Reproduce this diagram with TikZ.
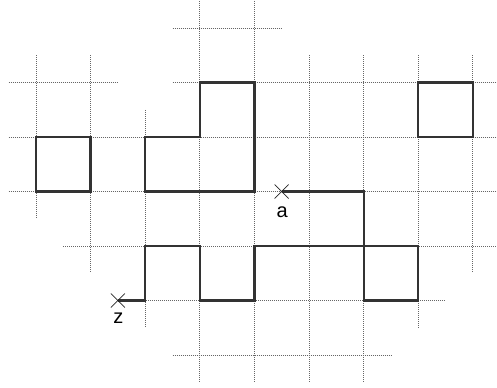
\documentclass[tikz,border=0pt]{standalone}
\usepackage{fontspec}
\setmainfont{Liberation Sans}
\begin{document}
\begin{tikzpicture}[x=54.6pt,y=-54.5pt,
  gridline/.style={draw=black!60,line width=0.9pt,dash pattern=on 1pt off 1pt},
  thick path/.style={draw=black!80,line width=2.2pt,line join=miter},
  crossmark/.style={draw=black!85,line width=0.7pt},
  lbl/.style={inner sep=0pt,font=\fontsize{20}{24}\selectfont}]
\useasboundingbox (-0.6593,-0.5138) rectangle (8.4432,6.5872);
\begin{scope}
\clip (-0.6593,-0.5138) rectangle (8.4432,6.5872);
% horizontal grid lines
\draw[gridline] (2.5,0) -- (4.5,0);
\draw[gridline] (-0.5,1) -- (1.5,1);
\draw[gridline] (2.5,1) -- (8.5,1);
\draw[gridline] (-0.5,2) -- (8.5,2);
\draw[gridline] (-0.5,3) -- (8.5,3);
\draw[gridline] (0.5,4) -- (8.5,4);
\draw[gridline] (1.5,5) -- (7.5,5);
\draw[gridline] (2.5,6) -- (6.5,6);
% vertical grid lines
\draw[gridline] (0,0.5) -- (0,3.5);
\draw[gridline] (1,0.5) -- (1,4.5);
\draw[gridline] (2,1.5) -- (2,5.5);
\draw[gridline] (3,-0.5) -- (3,6.5);
\draw[gridline] (4,-0.5) -- (4,6.5);
\draw[gridline] (5,0.5) -- (5,6.5);
\draw[gridline] (6,0.5) -- (6,6.5);
\draw[gridline] (7,0.5) -- (7,5.5);
\draw[gridline] (8,0.5) -- (8,4.5);
\end{scope}
% shapes
\draw[thick path] (0,2) rectangle (1,3);
\draw[thick path] (2,2) -- (2,3) -- (4,3) -- (4,1) -- (3,1) -- (3,2) -- cycle;
\draw[thick path] (7,1) rectangle (8,2);
% path from z to a
\coordinate (z) at (1.5,5);
\coordinate (a) at (4.5,3);
\draw[thick path] (z) -- (2,5) -- (2,4) -- (3,4) -- (3,5) -- (4,5) -- (4,4)
  -- (7,4) -- (7,5) -- (6,5) -- (6,3) -- (a);
% crosses
\draw[crossmark] ([shift={(-7pt,-7pt)}]a) -- ([shift={(7pt,7pt)}]a)
  ([shift={(-7pt,7pt)}]a) -- ([shift={(7pt,-7pt)}]a);
\draw[crossmark] ([shift={(-7pt,-7pt)}]z) -- ([shift={(7pt,7pt)}]z)
  ([shift={(-7pt,7pt)}]z) -- ([shift={(7pt,-7pt)}]z);
% labels
\node[lbl] (la) at ([shift={(0.5pt,-21pt)}]a) {a};
\node[lbl] (lz) at ([shift={(0.5pt,-18pt)}]z) {z};
\end{tikzpicture}
\end{document}
